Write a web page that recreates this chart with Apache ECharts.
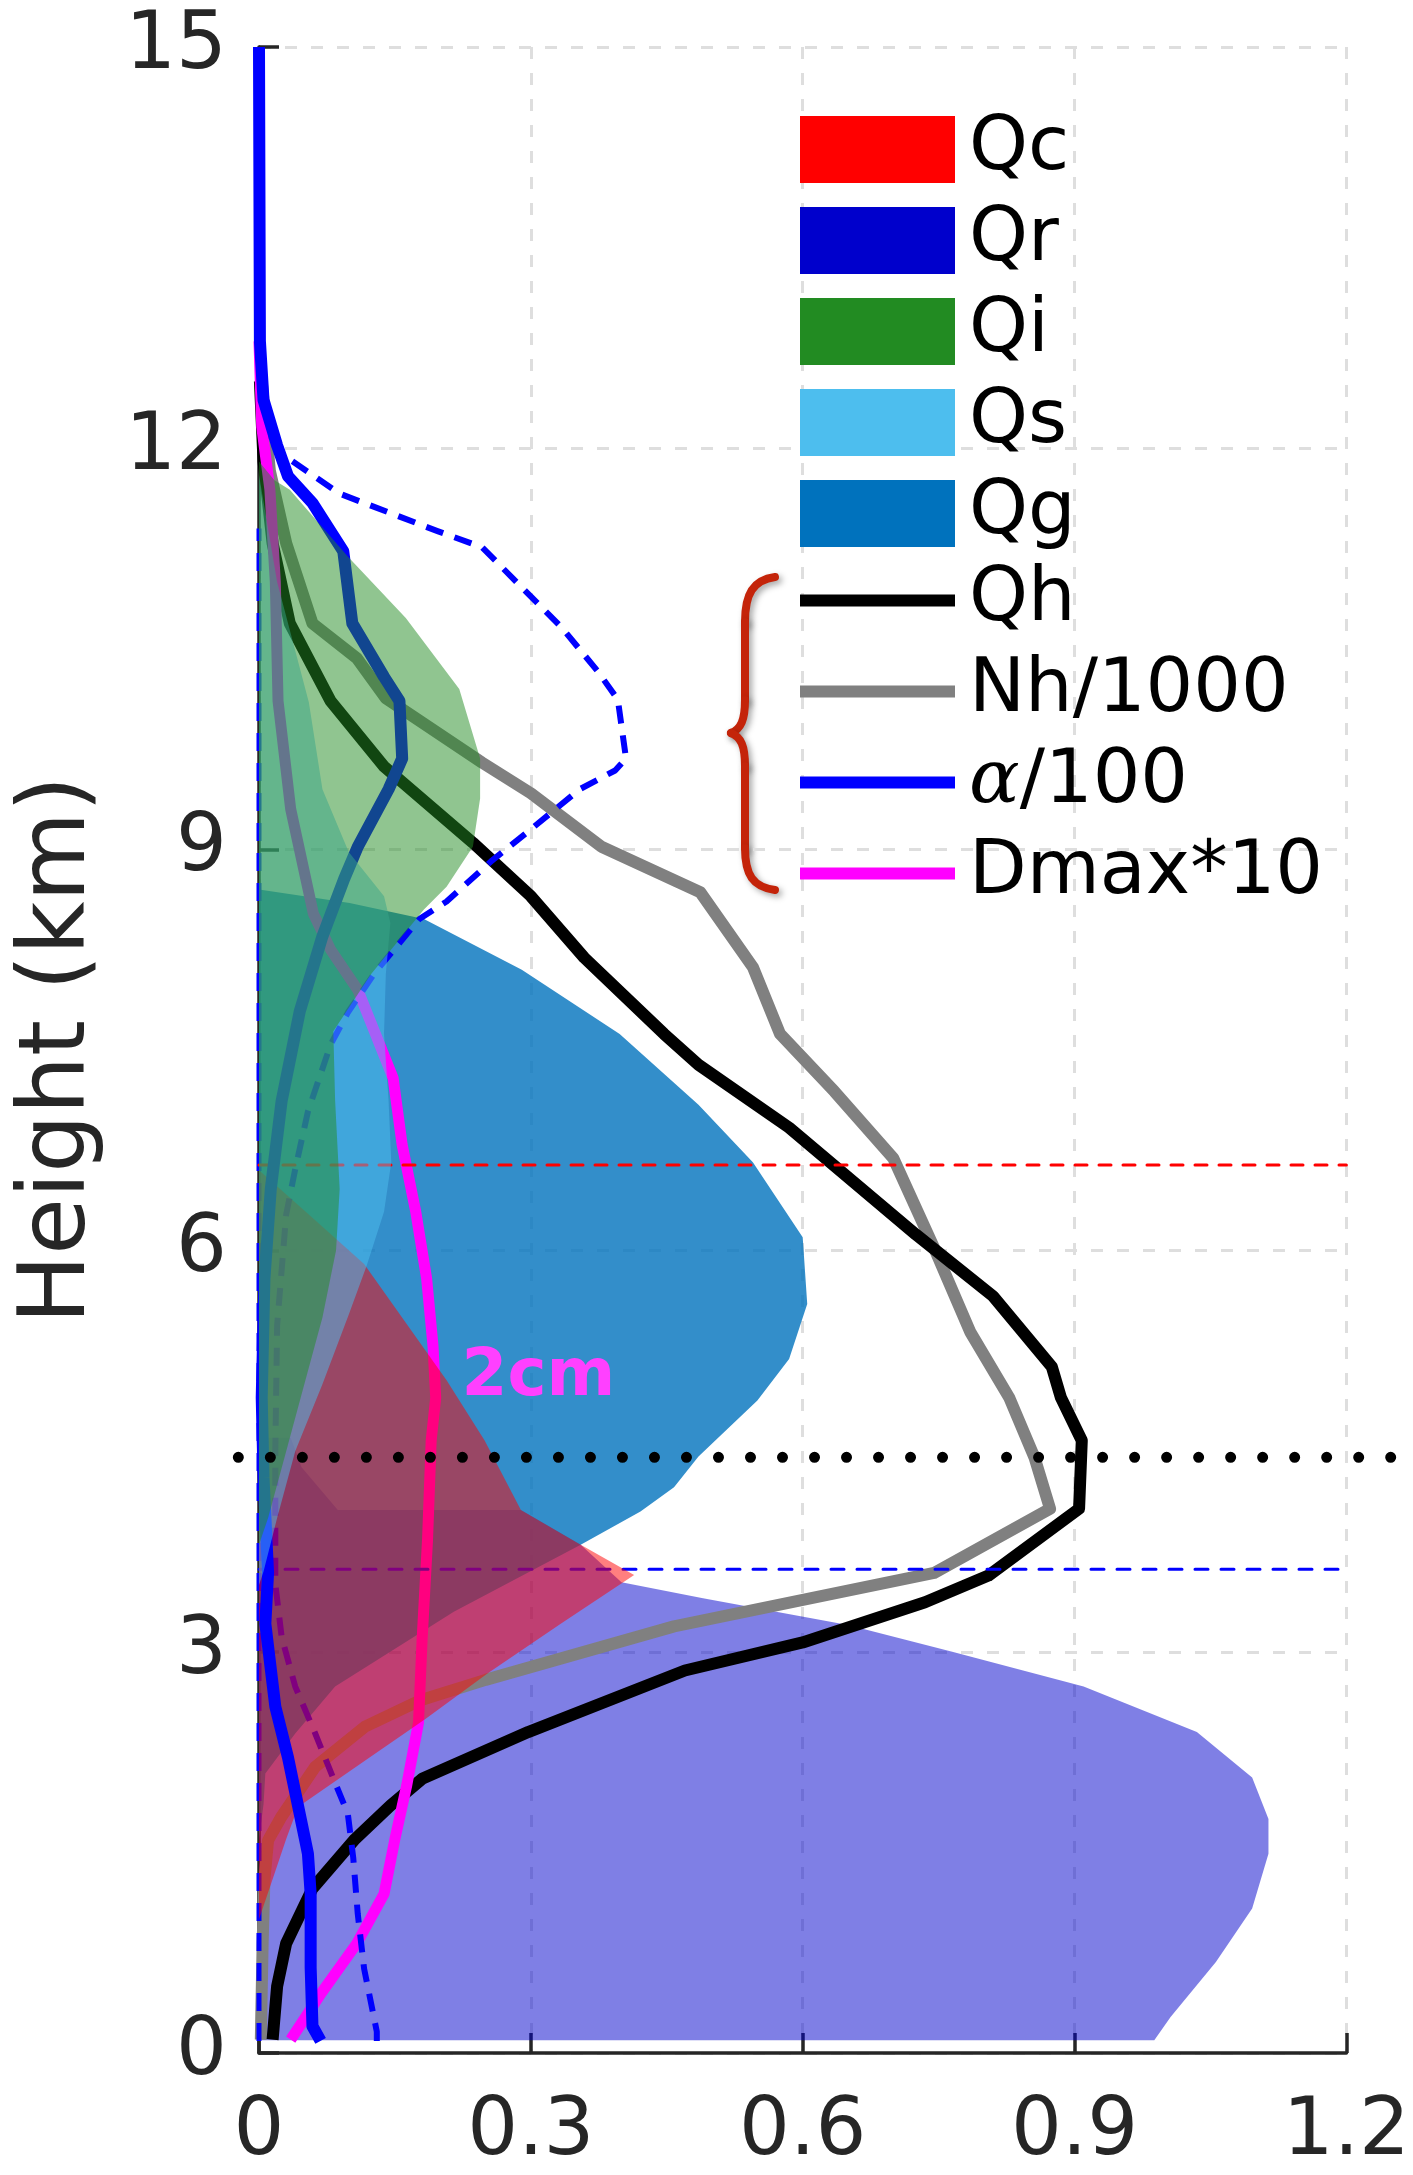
<!DOCTYPE html>
<html>
<head>
<meta charset="utf-8">
<script src="https://cdn.jsdelivr.net/npm/echarts@6/dist/echarts.min.js"></script>
<style>
  html, body { margin: 0; padding: 0; background: #ffffff; }
  #chart { width: 1413px; height: 2175px; }
</style>
</head>
<body>
<div id="chart"></div>
<script>
// Axis tick labels
const xTickLabels = ['0', '0.3', '0.6', '0.9', '1.2'];
const yTickLabels = ['0', '3', '6', '9', '12', '15'];

// Cloud water
const heightQc = [1.0, 1.3, 1.6, 1.84, 2.2, 2.5, 2.84, 3.21, 3.574, 3.80, 4.06, 4.58, 5.03, 5.9, 6.3, 6.6];
const qc       = [0.0, 0.015, 0.03, 0.043, 0.12, 0.184, 0.2525, 0.333, 0.414, 0.355, 0.289, 0.249, 0.207, 0.116, 0.05, 0.0];

// Rain
const heightQr = [0.096, 0.27, 0.68, 1.08, 1.49, 1.75, 2.06, 2.40, 2.74, 3.00, 3.20, 3.40, 3.52, 3.80, 4.06, 4.06, 4.38, 4.6];
const qr       = [0.988, 1.006, 1.056, 1.096, 1.114, 1.114, 1.096, 1.035, 0.910, 0.765, 0.650, 0.490, 0.400, 0.355, 0.289, 0.087, 0.047, 0.035];

// Cloud ice
const heightQi = [3.8, 4.0, 4.5, 5.0, 5.5, 6.0, 6.46, 7.12, 7.64, 8.07, 8.55, 8.72, 9.02, 9.38, 9.68, 10.2, 10.73, 11.19, 11.69, 11.76, 11.9];
const qi       = [0.0, 0.01, 0.03, 0.05, 0.07, 0.085, 0.089, 0.084, 0.082, 0.124, 0.182, 0.207, 0.236, 0.244, 0.244, 0.221, 0.162, 0.098, 0.034, 0.017, 0.0];

// Snow
const heightQs = [3.5, 3.6, 4.0, 4.5, 5.0, 5.52, 5.89, 6.29, 6.66, 7.12, 7.62, 8.07, 8.45, 8.65, 8.98, 9.45, 10.1, 11.0, 11.8];
const qs       = [0.0, 0.005, 0.02, 0.04, 0.07, 0.099, 0.119, 0.138, 0.146, 0.143, 0.138, 0.14, 0.145, 0.138, 0.099, 0.07, 0.055, 0.02, 0.0];

// Graupel
const heightQg = [1.6, 1.86, 2.09, 2.39, 2.74, 3.30, 3.80, 4.05, 4.23, 4.46, 4.88, 5.19, 5.6, 6.1, 6.66, 7.09, 7.62, 8.1, 8.48, 8.6, 8.7];
const qg       = [0.0, 0.005, 0.007, 0.04, 0.084, 0.215, 0.355, 0.421, 0.458, 0.485, 0.55, 0.585, 0.605, 0.6, 0.545, 0.485, 0.398, 0.29, 0.182, 0.1, 0.0];

// Hail mixing ratio
const heightQh = [0.1, 0.5, 0.82, 1.23, 1.6, 1.85, 2.05, 2.4, 2.86, 3.07, 3.37, 3.57, 4.07, 4.58, 4.9, 5.13, 5.66, 6.12, 6.92, 7.39, 7.62, 8.19, 8.65, 9.05, 9.62, 10.11, 10.69, 11.29, 11.9, 12.5];
const qh       = [0.015, 0.02, 0.03, 0.059, 0.106, 0.145, 0.18, 0.297, 0.47, 0.6, 0.735, 0.805, 0.905, 0.908, 0.885, 0.875, 0.81, 0.725, 0.585, 0.485, 0.447, 0.359, 0.30, 0.236, 0.138, 0.079, 0.034, 0.015, 0.005, 0.001];

// Hail number concentration / 1000
const heightNh = [0.1, 0.82, 1.3, 1.59, 1.77, 2.14, 2.44, 2.64, 2.79, 3.19, 3.59, 4.07, 4.45, 4.9, 5.39, 6.02, 6.69, 7.19, 7.62, 8.12, 8.68, 9.02, 9.42, 9.65, 10.13, 10.43, 10.69, 11.29, 11.83, 12.5];
const nh       = [0.002, 0.004, 0.006, 0.01, 0.025, 0.062, 0.117, 0.179, 0.25, 0.458, 0.745, 0.873, 0.856, 0.828, 0.785, 0.745, 0.70, 0.635, 0.575, 0.545, 0.487, 0.378, 0.30, 0.246, 0.14, 0.108, 0.059, 0.03, 0.012, 0.003];

// Shape parameter alpha / 100 (solid)
const heightAlpha = [0.09, 0.2, 0.64, 1.19, 1.49, 1.59, 2.21, 2.59, 3.21, 3.59, 4.3, 4.9, 5.79, 6.46, 7.12, 7.79, 8.35, 8.78, 9.02, 9.45, 9.68, 10.11, 10.29, 10.69, 11.23, 11.59, 11.79, 12.02, 12.36, 12.8, 15.0];
const alpha       = [0.068, 0.059, 0.057, 0.057, 0.054, 0.051, 0.032, 0.018, 0.007, 0.01, 0.005, 0.003, 0.006, 0.013, 0.025, 0.045, 0.07, 0.094, 0.109, 0.143, 0.158, 0.155, 0.138, 0.103, 0.093, 0.059, 0.032, 0.02, 0.005, 0.001, 0.0];

// Shape parameter alpha / 100 (dashed)
const heightAlphaDashed = [0.09, 0.16, 0.63, 1.04, 1.46, 1.79, 2.02, 2.39, 2.74, 3.11, 3.51, 4.5, 5.44, 6.27, 6.61, 7.04, 7.34, 7.54, 7.78, 8.08, 8.48, 8.61, 8.91, 9.15, 9.45, 9.59, 9.68, 10.12, 10.33, 10.66, 10.96, 11.26, 11.38, 11.52, 11.66, 11.92];
const alphaDashed       = [0.13, 0.13, 0.116, 0.109, 0.104, 0.098, 0.084, 0.062, 0.04, 0.025, 0.018, 0.018, 0.02, 0.03, 0.04, 0.054, 0.069, 0.079, 0.098, 0.128, 0.177, 0.207, 0.256, 0.30, 0.354, 0.393, 0.405, 0.396, 0.374, 0.334, 0.29, 0.246, 0.197, 0.143, 0.089, 0.033];
const heightAlphaDashedZero = [0.09, 11.4];
const alphaDashedZero       = [0.0, 0.0];

// Maximum hail diameter * 10
const heightDmax = [0.1, 0.45, 0.82, 1.19, 1.6, 2.0, 2.47, 3.09, 3.84, 4.58, 4.9, 5.29, 5.79, 6.29, 6.79, 7.29, 7.95, 8.25, 8.52, 9.3, 10.11, 11.0, 11.69, 12.16, 12.8];
const dmax       = [0.035, 0.069, 0.108, 0.138, 0.15, 0.163, 0.176, 0.18, 0.186, 0.19, 0.195, 0.192, 0.185, 0.173, 0.158, 0.148, 0.109, 0.079, 0.06, 0.035, 0.021, 0.018, 0.012, 0.003, 0.0];

// Reference levels (km)
const levelRed = 6.64;
const levelBlue = 3.617;
const levelDotted = 4.454;
const refSpan = [0, 1.2];

// "2cm" annotation on the Dmax profile
const dmaxNote = { text: '2cm', x: 0.2235, y: 5.05 };

const FONT = 'DejaVu Sans';
const AXIS_COLOR = '#262626';

function profile(h, v) {
  return h.map((y, i) => [v[i], y]);
}
function polygon(h, v) {
  return [[0, h[0]]].concat(profile(h, v), [[0, h[h.length - 1]]]);
}

function fillSeries(name, h, v, color, opacity, z) {
  const pts = polygon(h, v);
  return {
    name: name,
    type: 'custom',
    coordinateSystem: 'cartesian2d',
    data: pts,
    encode: { x: 0, y: 1 },
    itemStyle: { color: color },
    silent: true,
    z: z,
    renderItem: function (params, api) {
      if (params.dataIndex !== 0) return null;
      return {
        type: 'polygon',
        shape: { points: pts.map(function (p) { return api.coord(p); }) },
        style: { fill: color, opacity: opacity }
      };
    }
  };
}

function lineSeries(name, h, v, color, width, dash, z) {
  return {
    name: name,
    type: 'line',
    data: profile(h, v),
    color: color,
    symbol: 'none',
    showSymbol: false,
    silent: true,
    z: z,
    lineStyle: { color: color, width: width, type: dash || 'solid', join: 'round' }
  };
}

function levelSeries(name, level, span, color, width, dash, z, axisIndex) {
  return {
    name: name,
    type: 'line',
    xAxisIndex: axisIndex || 0,
    yAxisIndex: axisIndex || 0,
    data: [[span[0], level], [span[1], level]],
    symbol: 'none',
    silent: true,
    z: z,
    color: color,
    lineStyle: { color: color, width: width, type: dash, cap: 'round' }
  };
}

const legendText = {
  fontFamily: FONT,
  fontSize: 75,
  color: '#000000',
  lineHeight: 67,
  padding: [0, 0, 0, 9],
  rich: {
    a: { fontFamily: 'DejaVu Serif', fontStyle: 'italic', fontSize: 75, lineHeight: 67, color: '#000000' }
  }
};

// Curly brace grouping the hail-related legend entries
const braceStyle = {
  stroke: '#C4240A', lineWidth: 8, lineCap: 'round',
  shadowBlur: 6, shadowColor: 'rgba(0,0,0,0.35)', shadowOffsetX: 3, shadowOffsetY: 3
};
const braceParts = [
  { type: 'bezierCurve', shape: { x1: 775, y1: 577, cpx1: 753, cpy1: 580, cpx2: 745, cpy2: 594, x2: 745, y2: 622 } },
  { type: 'line', shape: { x1: 745, y1: 622, x2: 745, y2: 700 } },
  { type: 'bezierCurve', shape: { x1: 745, y1: 700, cpx1: 745, cpy1: 720, cpx2: 741, cpy2: 729, x2: 731, y2: 733 } },
  { type: 'bezierCurve', shape: { x1: 731, y1: 733, cpx1: 741, cpy1: 737, cpx2: 745, cpy2: 746, x2: 745, y2: 766 } },
  { type: 'line', shape: { x1: 745, y1: 766, x2: 745, y2: 848 } },
  { type: 'bezierCurve', shape: { x1: 745, y1: 848, cpx1: 745, cpy1: 875, cpx2: 753, cpy2: 887, x2: 775, y2: 890 } }
].map(function (p) { return Object.assign(p, { silent: true, style: Object.assign({ fill: null }, braceStyle) }); });

const chart = echarts.init(document.getElementById('chart'), null, { renderer: 'canvas' });

const gridSplit = { show: true, lineStyle: { color: '#DEDEDE', width: 3, type: [12, 14] } };

const option = {
  animation: false,
  backgroundColor: '#ffffff',
  grid: [
    { left: 259, right: 64, top: 47, bottom: 122, containLabel: false },
    // wider band so the dotted level line runs past both axes
    { left: 236, right: 13, top: 47, bottom: 122, containLabel: false }
  ],
  xAxis: [
    {
      type: 'value', min: 0, max: 1.2, interval: 0.3, gridIndex: 0,
      axisLine: { show: true, lineStyle: { color: AXIS_COLOR, width: 3.5 } },
      axisTick: { show: true, inside: true, length: 20, lineStyle: { color: AXIS_COLOR, width: 3.5 } },
      axisLabel: {
        fontFamily: FONT, fontSize: 80, color: AXIS_COLOR, margin: 40,
        formatter: function (v, i) { return xTickLabels[i]; }
      },
      splitLine: gridSplit
    },
    { type: 'value', min: 0, max: 1, gridIndex: 1, show: false }
  ],
  yAxis: [
    {
      type: 'value', min: 0, max: 15, interval: 3, gridIndex: 0,
      name: 'Height (km)', nameLocation: 'middle', nameGap: 153,
      nameTextStyle: { fontFamily: FONT, fontSize: 92, color: AXIS_COLOR },
      axisLine: { show: true, lineStyle: { color: AXIS_COLOR, width: 3.5 } },
      axisTick: { show: true, inside: true, length: 20, lineStyle: { color: AXIS_COLOR, width: 3.5 } },
      axisLabel: {
        fontFamily: FONT, fontSize: 80, color: AXIS_COLOR, margin: 32, padding: [5, 0, 0, 0],
        formatter: function (v, i) { return yTickLabels[i]; }
      },
      splitLine: gridSplit
    },
    { type: 'value', min: 0, max: 15, gridIndex: 1, show: false }
  ],
  legend: [
    {
      data: ['Qc', 'Qr', 'Qi', 'Qs', 'Qg'],
      orient: 'vertical', left: 800, top: 112, padding: 0,
      itemWidth: 155, itemHeight: 67, itemGap: 16,
      icon: 'rect', selectedMode: false,
      textStyle: legendText
    },
    {
      data: ['Qh', 'Nh/1000', 'α/100', 'Dmax*10'],
      orient: 'vertical', left: 800, top: 563, padding: 0,
      itemWidth: 155, itemHeight: 12, itemGap: 16,
      icon: 'rect', selectedMode: false,
      formatter: function (name) { return name === 'α/100' ? '{a|α}/100' : name; },
      textStyle: legendText
    }
  ],
  graphic: [{ type: 'group', silent: true, children: braceParts }],
  series: [
    fillSeries('Qr', heightQr, qr, '#0000CC', 0.5, 2),
    fillSeries('Qg', heightQg, qg, '#0072BD', 0.8, 3),
    lineSeries('Nh/1000', heightNh, nh, '#808080', 12, null, 4),
    lineSeries('Qh', heightQh, qh, '#000000', 12, null, 5),
    Object.assign(lineSeries('Dmax*10', heightDmax, dmax, '#FF00FF', 11, null, 6), {
      markPoint: {
        silent: true, z: 30,
        symbol: 'circle', symbolSize: 0,
        itemStyle: { color: 'rgba(0,0,0,0)' },
        label: {
          show: true, position: 'right', distance: 0,
          formatter: dmaxNote.text,
          fontFamily: FONT, fontSize: 66, fontWeight: 'bold', color: '#FF40FF'
        },
        data: [{ coord: [dmaxNote.x, dmaxNote.y] }]
      }
    }),
    lineSeries('alpha dashed', heightAlphaDashed, alphaDashed, '#0000FF', 6, [18, 12], 7),
    lineSeries('alpha dashed zero', heightAlphaDashedZero, alphaDashedZero, '#0000FF', 5, [18, 12], 8),
    levelSeries('red level', levelRed, refSpan, '#FF0000', 3, [12, 12], 9),
    levelSeries('blue level', levelBlue, refSpan, '#0000FF', 3, [13, 13], 10),
    fillSeries('Qc', heightQc, qc, '#FF0000', 0.5, 11),
    lineSeries('α/100', heightAlpha, alpha, '#0000FF', 12, null, 12),
    fillSeries('Qs', heightQs, qs, '#4DBEEE', 0.5, 13),
    fillSeries('Qi', heightQi, qi, '#228B22', 0.5, 14),
    levelSeries('dotted level', levelDotted, [0.002, 1], '#000000', 11, [0.01, 32], 20, 1)
  ]
};

chart.setOption(option);
</script>
</body>
</html>
